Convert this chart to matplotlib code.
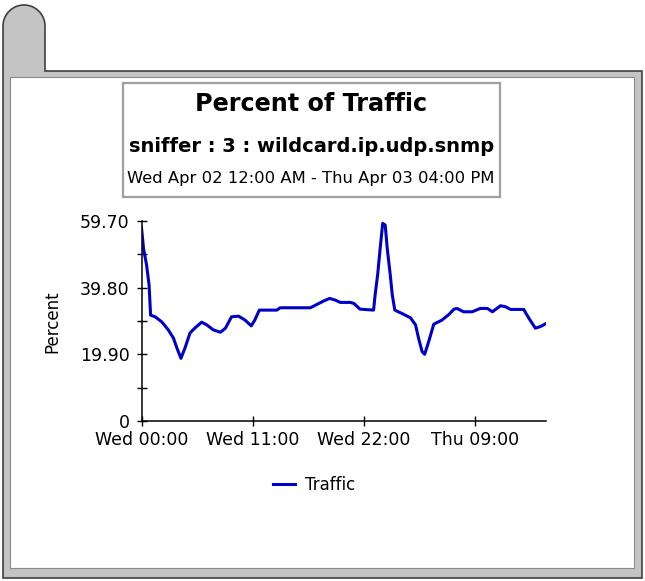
import numpy as np
import matplotlib
matplotlib.use("Agg")
import matplotlib.pyplot as plt
from matplotlib.patches import Rectangle, PathPatch
from matplotlib.path import Path

# ---------------- data (hours after Wed 00:00, percent) ----------------
hours = [0.0, 0.2, 0.5, 0.75, 0.9, 1.35, 2.0, 2.65, 3.15, 3.5, 3.9, 4.3, 4.8,
         5.3, 5.95, 6.45, 7.1, 7.8, 8.3, 8.9, 9.6, 10.25, 10.85, 11.2, 11.65,
         13.4, 13.7, 16.7, 17.35, 18.0, 18.6, 19.15, 19.65, 20.65, 21.0, 21.6,
         22.95, 23.1, 23.35, 23.6, 23.85, 24.1, 24.3, 24.6, 24.8, 25.05, 25.75,
         26.6, 27.1, 27.4, 27.75, 28.0, 28.4, 28.9, 29.7, 30.4, 30.9, 31.2,
         31.85, 32.7, 33.5, 34.2, 34.7, 35.5, 36.0, 36.5, 37.8, 38.3, 38.95,
         39.45, 39.95]
traffic = [57.7, 51.5, 46.6, 40.6, 31.6, 31.1, 29.6, 27.2, 24.8, 21.8, 18.7,
           21.8, 26.3, 27.8, 29.5, 28.7, 27.2, 26.5, 27.7, 31.1, 31.3, 30.1,
           28.4, 30.1, 33.1, 33.1, 33.8, 33.8, 34.8, 35.8, 36.6, 36.1, 35.4,
           35.4, 35.1, 33.4, 33.1, 37.6, 43.6, 51.5, 59.0, 58.5, 51.5, 43.6,
           37.6, 33.1, 32.1, 30.8, 28.7, 24.7, 20.7, 19.9, 23.7, 28.9, 30.1,
           31.8, 33.4, 33.6, 32.6, 32.6, 33.6, 33.6, 32.6, 34.4, 34.1, 33.3,
           33.3, 30.7, 27.7, 28.2, 29.0]

x_ticks = [0, 11, 22, 33]
x_labels = ["Wed 00:00", "Wed 11:00", "Wed 22:00", "Thu 09:00"]
y_major = [0, 19.90, 39.80, 59.70]
y_labels = ["0", "19.90", "39.80", "59.70"]
y_minor = [9.95, 29.85, 49.75]

W, H = 645, 581
plt.rcParams["font.family"] = "DejaVu Sans"

fig = plt.figure(figsize=(W / 100, H / 100), dpi=100)


def px(x, y):
    # pixel coords (origin top-left) -> figure fraction
    return x / W, 1 - y / H


# ---------------- folder-like frame ----------------
theta = np.linspace(np.pi, 0, 30)
cx, cy, r = 24, 26, 21
arc = [(cx + r * np.cos(t), cy - r * np.sin(t)) for t in theta]
outline = [(3, 578), (3, 26)] + arc + [(45, 71), (642, 71), (642, 578), (3, 578)]
verts = [px(x, y) for x, y in outline]
codes = [Path.MOVETO] + [Path.LINETO] * (len(verts) - 2) + [Path.CLOSEPOLY]
fig.patches.append(PathPatch(Path(verts, codes), transform=fig.transFigure,
                             facecolor="#c4c4c4", edgecolor="#404040", lw=1.2,
                             zorder=-10))
x0, y0 = px(10, 568)
fig.patches.append(Rectangle((x0, y0), 624 / W, 491 / H, transform=fig.transFigure,
                             facecolor="white", edgecolor="#8a8a8a", lw=0.8,
                             zorder=-9))

# ---------------- title box ----------------
x0, y0 = px(122.5, 197)
fig.patches.append(Rectangle((x0, y0), 377.5 / W, 114 / H, transform=fig.transFigure,
                             facecolor="white", edgecolor="#a0a0a0", lw=1.6,
                             zorder=-8))
fig.text(*px(311, 104), "Percent of Traffic", ha="center", va="center",
         fontsize=17.2, fontweight="bold")
fig.text(*px(312, 146), "sniffer : 3 : wildcard.ip.udp.snmp", ha="center",
         va="center", fontsize=14, fontweight="bold")
fig.text(*px(311, 179), "Wed Apr 02 12:00 AM - Thu Apr 03 04:00 PM", ha="center",
         va="center", fontsize=11.8)

# ---------------- chart ----------------
ax = fig.add_axes([141.5 / W, 1 - 421 / H, 404.5 / W, 200 / H])
ax.plot(hours, traffic, color="#0000cc", lw=2.2, label="Traffic")
ax.set_xlim(0, 40)
ax.set_ylim(0, 59.70)
ax.set_xticks(x_ticks)
ax.set_xticklabels(x_labels, fontsize=12.5)
ax.set_yticks(y_major)
ax.set_yticklabels(y_labels, fontsize=12.5)
ax.set_yticks(y_minor, minor=True)
ax.tick_params(axis="both", which="both", direction="inout", length=7,
               width=1.0)
ax.tick_params(axis="y", pad=5)
ax.tick_params(axis="x", pad=4)
ax.spines["top"].set_visible(False)
ax.spines["right"].set_visible(False)
for s in ("left", "bottom"):
    ax.spines[s].set_linewidth(1.1)
ax.patch.set_alpha(0)
ax.set_ylabel("Percent", fontsize=12)
ax.yaxis.set_label_coords((61 - 141.5) / 404.5, 0.495)

leg = fig.legend(loc="center", bbox_to_anchor=px(314, 485), frameon=False,
                 fontsize=12, handlelength=1.3, handletextpad=0.6)

fig.savefig("out.png", dpi=100)
